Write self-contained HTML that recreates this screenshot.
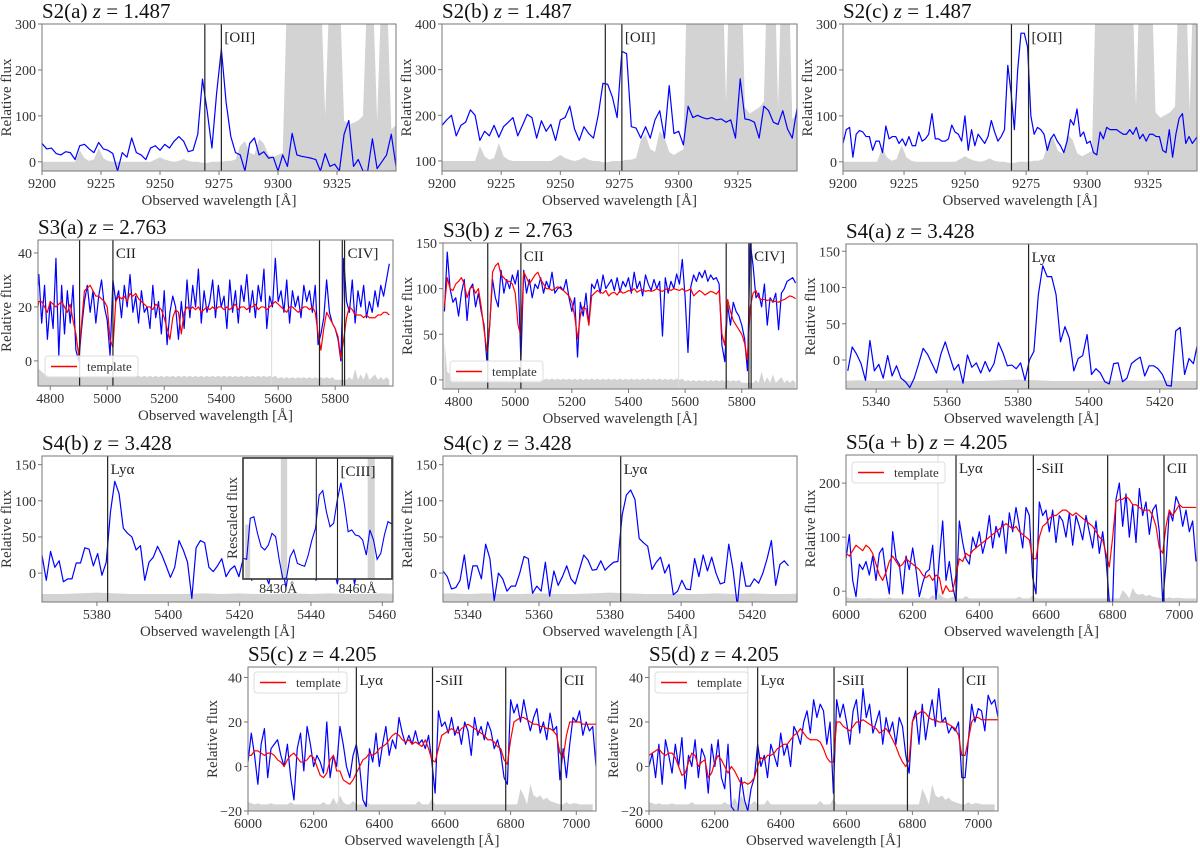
<!DOCTYPE html>
<html><head><meta charset="utf-8">
<style>
html,body{margin:0;padding:0;background:#fff;}
svg{display:block;font-family:"Liberation Serif","DejaVu Serif",serif;}
</style></head>
<body>
<svg id="fig" width="1200" height="850" viewBox="0 0 1200 850" xmlns="http://www.w3.org/2000/svg"></svg>
<script>
// ---------------- DATA ----------------
const s2aFlux = [40,28,30,18,15,22,20,5,35,38,28,20,42,28,25,18,-20,20,10,52,20,15,5,30,35,25,38,30,45,55,45,22,25,60,180,110,30,150,245,130,55,20,15,-20,40,52,15,22,8,10,-20,15,-10,62,15,12,10,8,5,-20,18,-10,-5,-20,60,90,-10,5,-20,-20,50,-15,0,15,60,-10];
const s2bFlux = [178,190,200,155,178,185,212,200,145,165,155,178,152,175,185,195,155,178,202,195,150,188,165,180,145,190,195,220,170,145,175,160,150,200,270,268,240,195,340,335,175,172,150,175,150,190,210,150,265,160,165,135,220,195,200,195,192,195,190,192,185,190,150,280,192,190,185,150,220,210,185,180,210,170,150,215];
const s2cFlux = [40,70,75,10,60,68,65,55,55,25,45,45,20,78,50,55,55,40,50,35,55,35,35,65,45,50,60,105,50,50,45,45,50,80,65,60,45,100,25,70,35,60,50,40,55,90,65,45,55,70,210,150,70,200,280,280,250,100,60,75,70,60,25,50,60,45,35,20,45,92,80,115,55,65,40,45,20,15,65,50,75,70,70,70,65,60,60,70,60,75,50,60,45,60,60,55,55,25,20,70,10,60,95,105,40,55,40,50,60,35,30,10,60,85];
const s2Sky = [0,0,0,0,0,0,0,0,25,8,2,5,30,8,2,0,0,0,0,0,0,0,0,0,5,10,5,2,0,2,6,2,0,0,-2,-2,0,0,0,2,2,5,35,45,20,15,50,40,15,10,15,20,400,400,400,400,400,400,400,400,100,400,400,400,90,80,85,90,100,400,400,90,400,400,70,80];
const s3aFlux = [18,32,14,28,8,22,12,38,2,28,10,26,14,28,4, 0,12,22,28,18,26,14,24,30,20, 15,2,30,22,26,16,28,20,32,18, 24,14,26,18,20,12,28,16,22,10, 26,6,18,24,20,8,22,12,30,16, 28,20,34,14,26,18,22,30,16,28, 20,24,12,30,18,26,14,28,22,32, 18,26,16,28,22,34,12,24,20,38, 22,26,18,30,14,26,20,24,16,28, 22,26,18,28,6,10,16,30,18,14, 12,8,0,38,22,18,30,14,26,20, 28,16,22,18,26,20,28,24,30,36];
const s3aTemplate = [16,22,22,20,18,22,21,20,21,22,20,18,21,15,10, 2,14,26,27,28,26,24,24,23,22, 20,8,5,22,24,23,24,22,25,24, 25,23,22,21,20,20,19,21,20,19, 16,12,8,16,19,18,10,18,20,19, 20,19,20,18,19,20,19,20,19,20, 20,19,20,19,20,21,19,20,20,19, 20,20,21,19,20,20,19,20,21,22, 21,20,19,18,20,20,19,18,19,20, 20,19,20,18,10,4,12,18,16,14, 12,9,1,8,16,20,19,17,17,17, 16,17,16,16,16,17,17,18,18,17];
const s3bFlux = [75,140,100,85,90,70,95,110,65,100,105,80,95,75,60, 20,60,110,90,80,120,95,110,100,115, 105,120,20,120,95,110,90,105,100,112, 95,108,100,118,95,100,102,98,110,90, 75,90,25,85,70,95,60,105,100,110, 95,115,100,105,110,98,112,96,108,102, 112,95,118,100,108,92,115,105,98,110, 100,108,48,112,95,108,100,116,105,132, 90,30,102,115,108,118,112,120,108,115, 110,112,105,38,20,82,60,85,75,70, 60,45,10,150,125,90,95,80,105,60, 90,85,95,55,95,100,108,110,112,106];
const s3bTemplate = [80,112,100,98,105,108,112,105,90,100,102,95,100,80,55, 32,60,118,125,128,115,112,108,108,105, 95,60,48,118,112,105,110,115,118,110, 105,100,100,98,100,102,100,98,95,92, 85,70,45,70,80,78,60,92,95,98, 96,95,98,92,95,96,93,98,95,96, 98,97,100,96,98,99,97,98,97,98, 100,98,97,99,100,98,100,99,98,100, 97,98,100,92,95,98,96,93,95,97, 96,94,98,50,38,88,75,65,60,55, 50,40,22,80,95,98,90,88,88,87, 88,86,86,85,87,88,90,92,91,89];
const s3Sky = [8,-3,-4,-5,-5,-6,-5,-6,-6,-6,-6,-6,-6,-6,-6, -6,-5.5,-6,-5.5,-6,-5.5,-6,-5.5,-6,-5.5, -6,-5.5,-6,-5.5,-6,-5.5,-6,-5.5,-6,-5.5, -6,-5.5,-6,-5.5,-6,-5.5,-6,-5.5,-6,-5.5, -6,-5.5,-6,-5.5,-6,-5.5,-6,-5.5,-6,-5.5, -6,-5.5,-6,-5.5,-6,-5.5,-6,-5.5,-6,-5.5, -6,-5.5,-6,-5.5,-6,-5.5,-6,-5.5,-6,-5.5, -6,-5.5,-6,-5.5,-6,-5.5,-6,-5.5,-6,-5.5, -6.5,-6,-6.5,-6,-6.5,-6,-6.5,-6,-6.5,-6, -6.5,-6,-6.5,-6,-6.5,-6,-6.5,-6,-6.5,-6, -7,-7,-7,-7,-7,-6,-7,-3,-7,-5, -7,-4,-7,-6,-5,-7,-6,-7,-6,-7];
const s4aFlux = [-15,18,8,-5,-28,27,-15,-6,-25,6,-22,-8,-25,-30,-38,-25,-5,16,8,-5,-18,8,25,5,-14,-6,-32,7,-10,-4,-18,-2,-16,-5,24,10,-8,-7,-12,-4,-28,0,12,90,130,115,115,90,25,46,30,-15,2,6,35,-20,-12,-18,-30,-33,-5,-4,-30,-25,-5,0,4,-22,-8,-8,-12,-20,-35,-36,40,45,-20,2,-5,25,-30,0];
const s4bFlux = [25,-10,30,8,17,-12,-8,-8,14,14,35,33,10,27,-3,15,85,127,110,62,55,50,32,38,-10,15,22,37,25,10,-6,8,45,32,15,-35,35,45,42,8,2,10,20,-5,5,10,-5,20,30,-10,15,25,0,-15,20,35,10,-20,15,30,-5,10,25,20,-10,15,25,30,10,-15,20,35,25,-15,10,20,25,15,30,20,25,15];
const s4cFlux = [3,-5,-22,-20,-10,25,-22,10,10,-8,40,20,-38,0,-8,-25,-18,-18,0,23,20,-28,-18,-25,15,-32,3,-17,-5,10,-8,-15,5,25,18,4,5,17,4,10,15,16,80,108,115,102,48,42,37,5,15,22,0,12,-30,-25,-10,-22,-23,20,-5,25,3,22,0,-15,-13,40,5,-45,15,-18,-18,-8,-14,0,20,45,-17,12,17,10];
const s4Sky = [-29,-28,-29,-28,-29,-29,-28,-29,-29,-28,-27,-28,-29,-29,-29,-29,-28,-29,-28,-29,-29,-28,-29,-28,-29,-29,-28,-29];
const insetFlux = [14.7,13.7,52.7,54.2,38.4,25.7,22.6,27.3,38.4,35.2,13.1,-5,-4,16.2,22.6,9.9,8.3,7.1,17.8,32,43.2,74.8,79,59,44.7,47.9,70,86.5,65.3,40,41.6,36.8,35.9,32,17.8,41.6,32,13.7,19.4,36.8,49.5,47.4];
const s5abFlux = [60,105,20,-10,50,40,55,30,65,20, 70,80,30,-5,110,60,50,-5,65,40, 80,40,-10,15,35,40,85,-15,60,130, 20,55,10,-20,130,90,60,50,100,80, 110,70,95,140,80,120,100,130,70,145, 110,155,120,80,155,140,25,-5,165,140, 150,110,150,90,140,130,100,145,85,140, 120,95,140,110,80,130,70,110,60,-20, -20,170,200,120,180,100,160,90,190,140, 165,105,150,160,110,-20,50,150,130,175, 160,120,150,110,130,55];
const s5abTemplate = [70,65,75,85,80,75,85,80,70,50, 30,20,35,55,65,55,45,50,60,55, 50,45,40,30,25,30,20,30,25,-5, 10,0,0,30,60,55,70,65,75,80, 85,90,95,100,105,110,115,120,125,120, 115,120,110,105,100,95,60,60,100,120, 125,135,140,140,145,150,150,145,140,145, 140,135,130,125,120,110,100,95,70,45, 100,165,170,170,175,170,160,160,155,150, 150,150,140,120,80,70,120,150,140,150, 160,155,155,155,155,155];
const s5cFlux = [2,15,5,-8,10,17,-5,8,10,12, 5,0,10,-5,-15,8,15,-2,18,10, 0,5,2,-3,20,-5,5,0,18,10, 0,-5,5,10,0,-15,-18,8,2,15, 0,10,18,5,12,8,22,15,10,14, 10,16,10,12,8,14,2,-12,25,18, 20,15,22,14,18,10,20,16,5,22, 14,18,12,20,16,8,12,6,-5,-8, 30,24,28,20,30,22,16,22,26,15, 20,12,24,16,18,-6,8,-5,10,22, 20,25,14,20,16,18,0];
const s5cTemplate = [5,5,7,7,6,5,6,6,5,3, 2,0,3,5,6,4,2,2,3,5, 4,0,-4,-5,-3,3,5,-2,-2,-6, -7,-8,-6,-3,0,3,4,6,5,6, 8,9,10,12,14,15,14,12,11,12, 10,11,10,9,12,8,3,2,8,14, 15,16,17,16,15,17,18,19,18,17, 16,15,14,12,12,11,9,8,3,1, 12,20,21,22,22,21,20,19,19,18, 18,17,17,16,14,6,4,14,20,20, 20,20,19,19,19,19,19];
const s5dFlux = [0,6,-5,10,-8,12,5,-3,10,0, 13,-10,5,0,12,-5,8,4,-12,10, 0,12,-5,-10,10,-18,-20,-20,-5,-15, -20,-10,-5,10,0,5,-5,10,5,0, 15,5,10,0,18,15,10,20,25,15, 30,22,28,25,10,20,-12,30,22,28, 20,10,25,30,15,35,22,28,15,20, 25,10,22,15,20,10,22,18,5,-3, 20,25,10,28,12,22,30,18,35,20, 22,15,18,16,20,-5,-5,12,28,20, 26,25,16,32,28,30,22];
const s5dTemplate = [5,6,7,8,6,5,6,6,4,0, -4,-3,2,6,5,0,2,3,-5,-3, 2,5,3,0,-3,0,-2,-5,-8,-7, -8,-7,-5,0,4,3,5,5,6,8, 9,10,10,12,14,15,17,15,13,12, 12,12,11,8,4,2,2,20,20,18, 17,16,18,20,20,21,20,19,18,17, 15,16,17,15,12,9,5,2,0,3, 20,23,24,25,24,22,21,21,20,20, 20,19,18,17,14,5,5,12,20,22, 22,21,21,21,21,21,21];
const s5Sky = [-16,-16.5,-17,-16.5,-17,-17,-17,-16.5,-17,-17, -17,-17,-17,-16,-17,-17,-17,-17,-17,-17, -17,-17,-17,-16,-17,-17,-14,-17,-13,-16, -17,-17,-15.5,-17,-17,-17,-15,-17,-17,-17, -17,-17,-17,-17,-17,-17,-17,-17,-17,-17, -17,-17,-15.5,-17,-17,-17,-14.5,-17,-17,-17, -17,-17,-17,-17,-17,-17,-17,-17,-17,-17, -17,-17,-17,-17,-17,-17,-17,-17,-17,-17, -17,-17,-17,-10,-13,-17,-8,-13,-14,-13, -15,-14,-15.5,-16,-16.5,-17,-17,-16,-17,-16.5, -16.5,-17,-17,-17,-17,-17];
const s2XTicks = [9200,9225,9250,9275,9300,9325];
const s3XTicks = [4800,5000,5200,5400,5600,5800];
const s4aXTicks = [5340,5360,5380,5400,5420];
const s4bXTicks = [5380,5400,5420,5440,5460];
const s5XTicks = [6000,6200,6400,6600,6800,7000];
const s2Lines = [9269,9276];
const s3Lines = [4903,5020,5745,5825,5833];
const s4Lines = [5383];
const s5Lines = [6330,6562,6785,6954];
const insetLines = [8444.4,8452.4];
const insetTickLabels = [8430,8460];

// ---------------- DRAWING ----------------
const NS = 'http://www.w3.org/2000/svg';
const svg = document.getElementById('fig');
function mk(tag, attrs, parent){
  const e = document.createElementNS(NS, tag);
  for (const k in attrs) e.setAttribute(k, attrs[k]);
  (parent||svg).appendChild(e);
  return e;
}
function lin(d0,d1,p0,p1){ return v => p0 + (v-d0)*(p1-p0)/(d1-d0); }
function pathFrom(vals,x0,dx,X,Y){
  return vals.map((v,i)=> (i?'L':'M') + X(x0+i*dx).toFixed(2) + ',' + Y(v).toFixed(2)).join('');
}
let clipId = 0;

function panel(c){
  const g = mk('g', {});
  
  
  const b = c.box;
  const X = lin(c.xmin, c.xmax, b.l, b.r);
  const Y = lin(c.ymin, c.ymax, b.b, b.t);
  const id = 'clip' + (clipId++);
  const cp = mk('clipPath', {id:id}, g);
  mk('rect', {x:b.l, y:b.t, width:b.r-b.l, height:b.b-b.t}, cp);
  const pg = mk('g', {'clip-path':'url(#'+id+')'}, g);
  
  
  if (c.sky){
    const s = c.sky;
    let d = 'M' + X(s.x0).toFixed(2) + ',' + b.b;
    s.vals.forEach((v,i)=>{ d += 'L' + X(s.x0+i*s.dx).toFixed(2) + ',' + Y(s.base + v*s.k).toFixed(2); });
    d += 'L' + X(s.x0+(s.vals.length-1)*s.dx).toFixed(2) + ',' + b.b + 'Z';
    const sp = mk('path', {d:d, fill:'#d3d3d3', stroke:'none'}, pg);
    
    
  }
  (c.skyLines||[]).forEach(w=>{
    const l = mk('line', {x1:X(w), x2:X(w), y1:b.t, y2:b.b, stroke:'#dcdcdc', 'stroke-width':1}, pg);
    
    
  });
  const fp = mk('path', {d:pathFrom(c.flux, c.fx0, c.fdx, X, Y), fill:'none', stroke:'#0000ff', 'stroke-width':1.2, 'stroke-linejoin':'round'}, pg);
  
  
  if (c.template){
    const tp = mk('path', {d:pathFrom(c.template, c.fx0, c.fdx, X, Y), fill:'none', stroke:'#ff0000', 'stroke-width':1.2, 'stroke-linejoin':'round'}, pg);
    
    
  }
  c.lines.forEach(w=>{
    const l = mk('line', {x1:X(w), x2:X(w), y1:b.t, y2:b.b, stroke:'#222', 'stroke-width':1.2}, pg);
    
    
  });
  (c.labels||[]).forEach(lb=>{
    const t = mk('text', {x:X(lb.x)+3, y:b.t+18, 'font-size':15, fill:'#222'}, g);
    t.textContent = lb.text;
    
    
  });
  const fr = mk('rect', {x:b.l, y:b.t, width:b.r-b.l, height:b.b-b.t, fill:'none', stroke:'#777', 'stroke-width':1}, g);
  
  
  c.xticks.forEach(v=>{
    const x = X(v);
    mk('line', {x1:x, x2:x, y1:b.b, y2:b.b+4, stroke:'#777', 'stroke-width':1}, g);
    const t = mk('text', {x:x, y:b.b+17, 'font-size':14, 'text-anchor':'middle', fill:'#333'}, g);
    t.textContent = v;
    
    
  });
  c.yticks.forEach(v=>{
    const y = Y(v);
    mk('line', {x1:b.l-4, x2:b.l, y1:y, y2:y, stroke:'#777', 'stroke-width':1}, g);
    const t = mk('text', {x:b.l-6, y:y+5, 'font-size':14, 'text-anchor':'end', fill:'#333'}, g);
    t.textContent = v < 0 ? '\u2212' + (-v) : v;
    
    
  });
  const xt = mk('text', {x:(b.l+b.r)/2, y:b.b+34, 'font-size':15, 'text-anchor':'middle', fill:'#333'}, g);
  xt.textContent = 'Observed wavelength  [\u00c5]';
  
  
  const yx = Math.max(b.l - 31, 11), yy = (b.t+b.b)/2;
  const yt = mk('text', {x:yx, y:yy, 'font-size':15, 'text-anchor':'middle', fill:'#333', transform:'rotate(-90 '+yx+' '+yy+')'}, g);
  yt.textContent = 'Relative flux';
  
  
  const tt = mk('text', {x:b.l, y:b.t-6, 'font-size':21, fill:'#111'}, g);
  
  
  const s1 = mk('tspan', {}, tt); s1.textContent = c.title + ' ';
  const s2 = mk('tspan', {'font-style':'italic'}, tt); s2.textContent = 'z';
  const s3 = mk('tspan', {}, tt); s3.textContent = ' = ' + c.z;
  if (c.legend){
    const L = c.legend;
    const lg = mk('g', {}, g);
    
    
    mk('rect', {x:L.x, y:L.y, width:93, height:21, rx:3, fill:'#fff', 'fill-opacity':0.85, stroke:'#ddd'}, lg);
    mk('line', {x1:L.x+6, x2:L.x+32, y1:L.y+10.5, y2:L.y+10.5, stroke:'#ff0000', 'stroke-width':1.4}, lg);
    const lt = mk('text', {x:L.x+42, y:L.y+15, 'font-size':13, fill:'#333'}, lg);
    lt.textContent = 'template';
    
    
  }
  return {g, X, Y};
}

const s2sky = (base,k)=>({x0:9200, dx:2, vals:s2Sky, base:base, k:k});
panel({name:'panel-s2a', title:'S2(a)', z:'1.487', box:{l:42,t:24,r:396,b:171}, xmin:9200, xmax:9350, ymin:-20, ymax:300,
  xticks:s2XTicks, yticks:[0,100,200,300], flux:s2aFlux, fx0:9200, fdx:2, sky:s2sky(0,1), lines:s2Lines, labels:[{x:9276,text:'[OII]'}]});
panel({name:'panel-s2b', title:'S2(b)', z:'1.487', box:{l:442,t:24,r:797,b:171}, xmin:9200, xmax:9350, ymin:78, ymax:400,
  xticks:s2XTicks, yticks:[100,200,300,400], flux:s2bFlux, fx0:9200, fdx:2, sky:s2sky(100,1.3), lines:s2Lines, labels:[{x:9276,text:'[OII]'}]});
panel({name:'panel-s2c', title:'S2(c)', z:'1.487', box:{l:843,t:24,r:1197,b:171}, xmin:9200, xmax:9345, ymin:-20, ymax:300,
  xticks:s2XTicks, yticks:[0,100,200,300], flux:s2cFlux, fx0:9200, fdx:1.35, sky:s2sky(0,1.2), lines:s2Lines, labels:[{x:9276,text:'[OII]'}]});

const s3Labels = [{x:5020,text:'CII'},{x:5833,text:'CIV]'}];
panel({name:'panel-s3a', title:'S3(a)', z:'2.763', box:{l:38,t:240,r:393,b:386}, xmin:4757, xmax:6003, ymin:-9.3, ymax:44.8,
  xticks:s3XTicks, yticks:[0,20,40], flux:s3aFlux, template:s3aTemplate, fx0:4750, fdx:10,
  sky:{x0:4750, dx:10, vals:s3Sky, base:0, k:1}, skyLines:[5577], lines:s3Lines, labels:s3Labels, legend:{x:45,y:356}});
panel({name:'panel-s3b', title:'S3(b)', z:'2.763', box:{l:443,t:243,r:797,b:389}, xmin:4745, xmax:5995, ymin:-10, ymax:150,
  xticks:s3XTicks, yticks:[0,50,100,150], flux:s3bFlux, template:s3bTemplate, fx0:4750, fdx:10,
  sky:{x0:4750, dx:10, vals:s3Sky.map(v=>(v+9.3)*3-10), base:0, k:1}, skyLines:[5577], lines:s3Lines, labels:s3Labels, legend:{x:450,y:361}});
panel({name:'panel-s4a', title:'S4(a)', z:'3.428', box:{l:846,t:244,r:1197,b:389}, xmin:5331.5, xmax:5430.5, ymin:-40, ymax:160,
  xticks:s4aXTicks, yticks:[0,50,100,150], flux:s4aFlux, fx0:5332, fdx:1.25,
  sky:{x0:5330, dx:5, vals:s4Sky, base:0, k:1}, lines:s4Lines, labels:[{x:5383,text:'Ly\u03b1'}]});

const p4b = panel({name:'panel-s4b', title:'S4(b)', z:'3.428', box:{l:42,t:456,r:393,b:602}, xmin:5364.6, xmax:5463, ymin:-40, ymax:162,
  xticks:s4bXTicks, yticks:[0,50,100,150], flux:s4bFlux, fx0:5364.6, fdx:1.2,
  sky:{x0:5330, dx:5, vals:s4Sky, base:0, k:1}, lines:s4Lines, labels:[{x:5383,text:'Ly\u03b1'}]});
(function(){
  const ib = {l:243,t:458,r:392,b:579};
  const gi = mk('g', {}, p4b.g);
  
  
  mk('rect', {x:ib.l, y:ib.t, width:ib.r-ib.l, height:ib.b-ib.t, fill:'#fff'}, gi);
  const X = lin(8416.7, 8473, ib.l, ib.r);
  const Y = lin(-5, 110, ib.b, ib.t);
  const cp = mk('clipPath', {id:'clipInset'}, gi);
  mk('rect', {x:ib.l, y:ib.t, width:ib.r-ib.l, height:ib.b-ib.t}, cp);
  const pg = mk('g', {'clip-path':'url(#clipInset)'}, gi);
  [[8417.5,8419.4,0.55],[8431,8433.4,0],[8463.8,8466.5,0]].forEach(bd=>{
    const r = mk('rect', {x:X(bd[0]), y:ib.t+(ib.b-ib.t)*bd[2], width:X(bd[1])-X(bd[0]), height:(ib.b-ib.t)*(1-bd[2]), fill:'#d3d3d3'}, pg);
    
    
  });
  const fp = mk('path', {d:pathFrom(insetFlux, 8416.7, 1.37, X, Y), fill:'none', stroke:'#0000ff', 'stroke-width':1.1}, pg);
  
  
  insetLines.forEach(w=>{
    const l = mk('line', {x1:X(w), x2:X(w), y1:ib.t, y2:ib.b, stroke:'#222', 'stroke-width':1.1}, pg);
    
    
  });
  const fr = mk('rect', {x:ib.l, y:ib.t, width:ib.r-ib.l, height:ib.b-ib.t, fill:'none', stroke:'#333', 'stroke-width':1.6}, gi);
  
  
  insetTickLabels.forEach(v=>{
    const t = mk('text', {x:X(v), y:ib.b+14, 'font-size':14, 'text-anchor':'middle', fill:'#333'}, gi);
    t.textContent = v + '\u00c5';
    
    
  });
  const lb = mk('text', {x:X(8452.4)+3, y:ib.t+18, 'font-size':15, fill:'#222'}, gi);
  lb.textContent = '[CIII]';
  
  
  const yx = 237, yy = 518;
  const yt = mk('text', {x:yx, y:yy, 'font-size':15, 'text-anchor':'middle', fill:'#333', transform:'rotate(-90 '+yx+' '+yy+')'}, gi);
  yt.textContent = 'Rescaled flux';
  
  
})();

panel({name:'panel-s4c', title:'S4(c)', z:'3.428', box:{l:443,t:456,r:797,b:602}, xmin:5333, xmax:5432.6, ymin:-40, ymax:162,
  xticks:s4aXTicks, yticks:[0,50,100,150], flux:s4cFlux, fx0:5333, fdx:1.2,
  sky:{x0:5330, dx:5, vals:s4Sky, base:0, k:1}, lines:s4Lines, labels:[{x:5383,text:'Ly\u03b1'}]});

const s5Labels = [{x:6330,text:'Ly\u03b1'},{x:6562,text:'-SiII'},{x:6954,text:'CII'}];
panel({name:'panel-s5ab', title:'S5(a + b)', z:'4.205', box:{l:846,t:455,r:1197,b:602}, xmin:6000, xmax:7053, ymin:-20, ymax:252,
  xticks:s5XTicks, yticks:[0,100,200], flux:s5abFlux, template:s5abTemplate, fx0:6000, fdx:10,
  sky:{x0:6000, dx:10, vals:s5Sky.map(v=>(v+20)*2.2-20), base:0, k:1}, skyLines:[6276], lines:s5Lines, labels:s5Labels, legend:{x:852,y:462}});
panel({name:'panel-s5c', title:'S5(c)', z:'4.205', box:{l:248,t:667,r:596,b:811}, xmin:6000, xmax:7060, ymin:-20, ymax:44.7,
  xticks:s5XTicks, yticks:[-20,0,20,40], flux:s5cFlux, template:s5cTemplate, fx0:6000, fdx:10,
  sky:{x0:6000, dx:10, vals:s5Sky, base:0, k:1}, skyLines:[6276], lines:s5Lines, labels:s5Labels, legend:{x:254,y:672}});
panel({name:'panel-s5d', title:'S5(d)', z:'4.205', box:{l:649,t:667,r:998,b:811}, xmin:6000, xmax:7060, ymin:-20, ymax:44.7,
  xticks:s5XTicks, yticks:[-20,0,20,40], flux:s5dFlux, template:s5dTemplate, fx0:6000, fdx:10,
  sky:{x0:6000, dx:10, vals:s5Sky, base:0, k:1}, skyLines:[6300], lines:s5Lines, labels:s5Labels, legend:{x:655,y:672}});
</script>
</body></html>
